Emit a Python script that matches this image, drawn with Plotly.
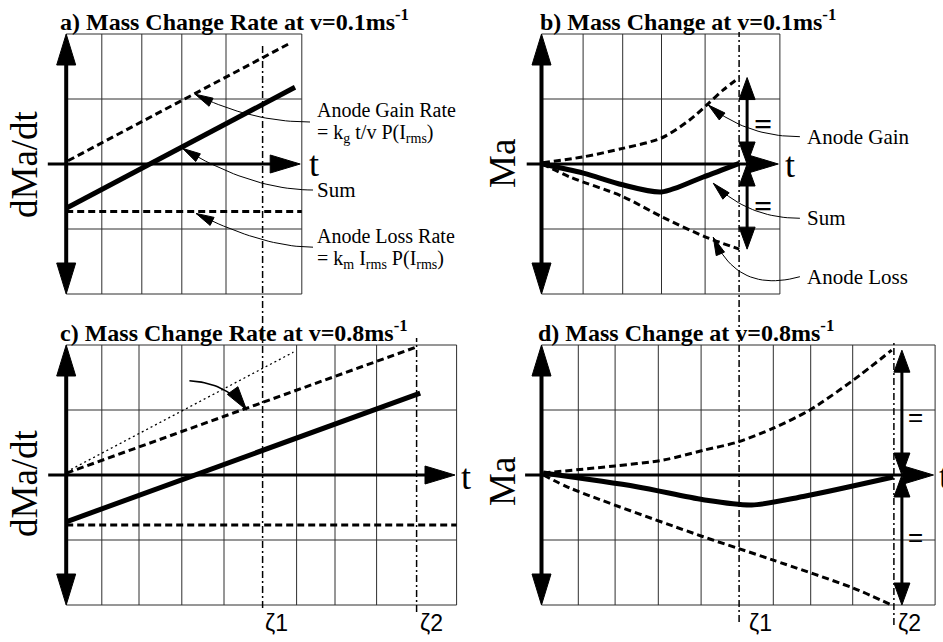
import math
import plotly.graph_objects as go

W, H = 943, 642
SX, SY = 40.0, 65.0   # pixels per time unit, pixels per grid row

SERIF = "Liberation Serif, Times New Roman, serif"
SANS = "Liberation Sans, Arial, sans-serif"
GRID = "#2e2e2e"

# ---------------------------------------------------------------- data
# a) mass change rate, v = 0.1 m/s
a_gain_t = [0.045, 5.60]
a_gain = [0.05, 1.86]
a_loss_t = [0.0, 5.89]
a_loss = [-0.73, -0.73]
a_sum_t = [0.0, 5.72]
a_sum = [-0.68, 1.18]
a_grid_t = [0.89, 1.89, 2.89, 3.995]
a_t_end = 5.89

# b) mass change, v = 0.1 m/s
b_gain_t = [0.03, 1.045, 2.03, 3.0, 3.71, 4.17, 4.545, 4.945]
b_gain = [0.02, 0.11, 0.24, 0.40, 0.68, 0.93, 1.14, 1.33]
b_loss_t = [0.025, 0.71, 2.03, 3.0, 4.09, 4.945]
b_loss = [0.0, -0.20, -0.50, -0.81, -1.12, -1.31]
b_sum_t = [0.025, 1.045, 2.03, 3.0, 4.045, 4.945]
b_sum = [0.0, -0.14, -0.32, -0.43, -0.20, 0.01]
b_grid_t = [1.04, 2.03, 3.0, 4.09]
b_t_end = 5.96

# c) mass change rate, v = 0.8 m/s (thin dotted: gain rate at v = 0.1 m/s)
c_ref_t = [0.01, 5.68]
c_ref = [0.05, 1.89]
c_gain_t = [0.01, 8.76]
c_gain = [0.03, 1.97]
c_loss_t = [0.0, 9.76]
c_loss = [-0.77, -0.77]
c_sum_t = [0.0, 8.85]
c_sum = [-0.72, 1.26]
c_grid_t = [0.89, 1.82, 2.89, 3.945, 5.76, 6.72, 7.76]
c_t_end = 9.76

# d) mass change, v = 0.8 m/s
d_gain_t = [0.045, 1.84, 3.045, 4.045, 4.92, 5.795, 6.71, 7.795, 8.755]
d_gain = [0.03, 0.14, 0.23, 0.38, 0.51, 0.72, 1.00, 1.46, 1.92]
d_loss_t = [0.045, 0.71, 4.045, 4.92, 5.795, 7.795, 8.755]
d_loss = [0.0, -0.20, -0.95, -1.13, -1.31, -1.74, -2.00]
d_sum_t = [0.045, 2.38, 4.045, 5.255, 6.545, 8.795]
d_sum = [0.03, -0.18, -0.38, -0.46, -0.33, -0.03]
d_grid_t = [0.92, 1.84, 2.92, 3.99, 5.795, 6.73, 7.78]
d_t_end = 9.84

grid_rows = [-1.0, 1.0]
row_lim = 2.0

zeta_left = [4.91, 8.76]
zeta_right = [4.94, 8.81]
zeta_labels = ["ζ1", "ζ2"]

titles = {
    "a": "a) Mass Change Rate at v=0.1ms<sup>-1</sup>",
    "b": "b) Mass Change at v=0.1ms<sup>-1</sup>",
    "c": "c) Mass Change Rate at v=0.8ms<sup>-1</sup>",
    "d": "d) Mass Change at v=0.8ms<sup>-1</sup>",
}

# ---------------------------------------------------------------- panels
PANELS = {
    "a": dict(n="", ox=66.2, oy=164.0, quad=(0.0, 471.5, 0.0, 321.0)),
    "b": dict(n="2", ox=541.5, oy=164.0, quad=(471.5, 943.0, 0.0, 321.0)),
    "c": dict(n="3", ox=66.2, oy=475.0, quad=(0.0, 471.5, 321.0, 642.0)),
    "d": dict(n="4", ox=541.5, oy=475.0, quad=(471.5, 943.0, 321.0, 642.0)),
}

fig = go.Figure()
layout = dict(
    width=W, height=H, margin=dict(l=0, r=0, t=0, b=0),
    paper_bgcolor="white", plot_bgcolor="rgba(0,0,0,0)",
    showlegend=False, hovermode=False,
)
for key, p in PANELS.items():
    X0, X1, Y0, Y1 = p["quad"]
    layout["xaxis" + p["n"]] = dict(
        domain=[X0 / W, X1 / W], range=[(X0 - p["ox"]) / SX, (X1 - p["ox"]) / SX],
        visible=False, fixedrange=True, anchor="y" + p["n"])
    layout["yaxis" + p["n"]] = dict(
        domain=[1 - Y1 / H, 1 - Y0 / H], range=[(p["oy"] - Y1) / SY, (p["oy"] - Y0) / SY],
        visible=False, fixedrange=True, anchor="x" + p["n"])
fig.update_layout(**layout)


def refs(k):
    n = PANELS[k]["n"]
    return "x" + n, "y" + n


def line(k, xs, ys, width=1.0, dash="solid", color="black", shape="linear"):
    xr, yr = refs(k)
    fig.add_trace(go.Scatter(
        x=xs, y=ys, mode="lines", xaxis=xr, yaxis=yr,
        line=dict(color=color, width=width, dash=dash, shape=shape, smoothing=0.8),
        hoverinfo="skip", showlegend=False))


def unit(frm, to):
    dx = (to[0] - frm[0]) * SX
    dy = (to[1] - frm[1]) * SY
    n = math.hypot(dx, dy)
    return dx / n, dy / n


def head(k, tip, frm, length, width):
    ux, uy = unit(frm, tip)
    bx, by = -ux * length, -uy * length
    nx, ny = -uy * width / 2, ux * width / 2
    xs = [tip[0], tip[0] + (bx + nx) / SX, tip[0] + (bx - nx) / SX, tip[0]]
    ys = [tip[1], tip[1] + (by + ny) / SY, tip[1] + (by - ny) / SY, tip[1]]
    xr, yr = refs(k)
    fig.add_trace(go.Scatter(
        x=xs, y=ys, mode="lines", fill="toself", fillcolor="black",
        xaxis=xr, yaxis=yr, line=dict(color="black", width=1),
        hoverinfo="skip", showlegend=False))


def pull_back(frm, tip, px):
    ux, uy = unit(frm, tip)
    return tip[0] - ux * px / SX, tip[1] - uy * px / SY


def arrow(k, start, tip, width, length, hw, both=False):
    a = pull_back(tip, start, length * 0.6) if both else start
    b = pull_back(start, tip, length * 0.6)
    line(k, [a[0], b[0]], [a[1], b[1]], width=width)
    head(k, tip, start, length, hw)
    if both:
        head(k, start, tip, length, hw)


def leader(k, tip, ctrl, end, length=18, hw=9, lw=1.0):
    steps = 24
    xs, ys = [], []
    for i in range(steps + 1):
        s = i / steps
        xs.append((1 - s) ** 2 * tip[0] + 2 * (1 - s) * s * ctrl[0] + s * s * end[0])
        ys.append((1 - s) ** 2 * tip[1] + 2 * (1 - s) * s * ctrl[1] + s * s * end[1])
    line(k, xs, ys, width=lw)
    head(k, tip, ctrl, length, hw)


def text(k, x, y, s, size, family=SERIF, xanchor="left", yanchor="middle", angle=0):
    xr, yr = refs(k)
    fig.add_annotation(x=x, y=y, xref=xr, yref=yr, text=s, showarrow=False,
                       font=dict(family=family, size=size, color="black"),
                       xanchor=xanchor, yanchor=yanchor, textangle=angle)


def ptext(xpx, ypx, s, size, family=SERIF, xanchor="left", yanchor="middle", angle=0):
    fig.add_annotation(x=xpx / W, y=1 - ypx / H, xref="paper", yref="paper", text=s,
                       showarrow=False, font=dict(family=family, size=size, color="black"),
                       xanchor=xanchor, yanchor=yanchor, textangle=angle)


def frame(k, grid_t, t_end, x_left):
    # grid, box and the two axes of one panel
    gx, gy = [], []
    for t in grid_t:
        gx += [t, t, None]
        gy += [-row_lim, row_lim, None]
    for r in grid_rows:
        gx += [0, t_end, None]
        gy += [r, r, None]
    line(k, gx, gy, width=1, color=GRID)
    line(k, [0, t_end, t_end, 0], [-row_lim, -row_lim, row_lim, row_lim], width=1, color=GRID)
    arrow(k, (0, -row_lim), (0, row_lim), width=4, length=31, hw=19, both=True)
    arrow(k, (x_left, 0), (t_end - 0.04, 0), width=3, length=30, hw=18)


DASH = "7px,4px"
LABEL = 21
PAIR = 20   # two-line labels next to the rate curves

# ---------------------------------------------------------------- a
frame("a", a_grid_t, a_t_end, -0.46)
line("a", a_gain_t, a_gain, width=3, dash=DASH)
line("a", a_loss_t, a_loss, width=3, dash=DASH)
line("a", a_sum_t, a_sum, width=5)
leader("a", (3.22, 1.075), (4.605, 0.646), (6.095, 0.646))
leader("a", (2.91, 0.24), (4.645, -0.40), (6.17, -0.40))
leader("a", (3.245, -0.76), (4.945, -1.28), (6.17, -1.28))
text("a", 6.22, 0.835, "Anode Gain Rate", PAIR)
text("a", 6.22, 0.47, "= k<sub>g</sub> t/v P(I<sub>rms</sub>)", PAIR)
text("a", 6.22, -0.40, "Sum", LABEL)
text("a", 6.22, -1.105, "Anode Loss Rate", PAIR)
text("a", 6.22, -1.47, "= k<sub>m</sub> I<sub>rms</sub> P(I<sub>rms</sub>)", PAIR)
text("a", 6.2, 0.0, "t", 36, xanchor="center")
ptext(24, 164, "dMa/dt", 37, angle=-90, xanchor="center")

# ---------------------------------------------------------------- b
frame("b", b_grid_t, b_t_end, -0.37)
line("b", b_gain_t, b_gain, width=3, dash=DASH, shape="spline")
line("b", b_loss_t, b_loss, width=3, dash=DASH, shape="spline")
line("b", b_sum_t, b_sum, width=5, shape="spline")
bx = zeta_right[0] + 8 / SX
arrow("b", (bx, 0), (bx, b_gain[-1]), width=3, length=22, hw=16, both=True)
arrow("b", (bx, 0), (bx, b_loss[-1]), width=3, length=22, hw=16, both=True)
text("b", bx + 0.40, 0.62, "<b>=</b>", 32, xanchor="center")
text("b", bx + 0.40, -0.65, "<b>=</b>", 32, xanchor="center")
leader("b", (4.17, 0.908), (5.125, 0.42), (6.46, 0.42))
leader("b", (4.295, -0.297), (5.17, -0.835), (6.46, -0.835))
leader("b", (4.295, -1.128), (4.9, -2.0), (6.46, -1.734))
text("b", 6.59, 0.42, "Anode Gain", LABEL)
text("b", 6.59, -0.835, "Sum", LABEL)
text("b", 6.59, -1.734, "Anode Loss", LABEL)
text("b", 6.2, -0.02, "t", 36, xanchor="center")
ptext(502, 164, "Ma", 37, angle=-90, xanchor="center")

# ---------------------------------------------------------------- c
frame("c", c_grid_t, c_t_end, -0.45)
line("c", c_ref_t, c_ref, width=1.3, dash="2px,3px")
line("c", c_gain_t, c_gain, width=3, dash=DASH)
line("c", c_loss_t, c_loss, width=3, dash=DASH)
line("c", c_sum_t, c_sum, width=5)
leader("c", (4.51, 1.0), (4.02, 1.42), (3.08, 1.45), length=24, hw=13, lw=1.6)
text("c", 10.0, -0.03, "t", 36, xanchor="center")
ptext(24, 483, "dMa/dt", 37, angle=-90, xanchor="center")

# ---------------------------------------------------------------- d
frame("d", d_grid_t, d_t_end, -0.41)
line("d", d_gain_t, d_gain, width=3, dash=DASH, shape="spline")
line("d", d_loss_t, d_loss, width=3, dash=DASH, shape="spline")
line("d", d_sum_t, d_sum, width=5, shape="spline")
dx_ = zeta_right[1] + 8 / SX
arrow("d", (dx_, 0), (dx_, d_gain[-1]), width=3, length=22, hw=16, both=True)
arrow("d", (dx_, 0), (dx_, d_loss[-1]), width=3, length=22, hw=16, both=True)
text("d", dx_ + 0.34, 0.90, "=", 26, family=SANS, xanchor="center")
text("d", dx_ + 0.34, -0.95, "=", 26, family=SANS, xanchor="center")
text("d", 9.88, -0.02, "t", 36)
ptext(502, 482, "Ma", 37, angle=-90, xanchor="center")

# ---------------------------------------------------------------- zeta markers
DASHDOT = "7px,3px,2px,3px"
zspans_left = [(45, 608), (338, 612)]
zspans_right = [(32, 622), (340, 625)]
for z, (ya, yb), lab, lx in zip(zeta_left, zspans_left, zeta_labels, [263, 418]):
    fig.add_shape(type="line", xref="x3", yref="paper", x0=z, x1=z,
                  y0=1 - yb / H, y1=1 - ya / H,
                  line=dict(color="black", width=1.5, dash=DASHDOT))
    ptext(lx, 623, lab, 23, family=SANS)
for z, (ya, yb), lab, lx in zip(zeta_right, zspans_right, zeta_labels, [747, 896]):
    fig.add_shape(type="line", xref="x4", yref="paper", x0=z, x1=z,
                  y0=1 - yb / H, y1=1 - ya / H,
                  line=dict(color="black", width=1.5, dash=DASHDOT))
    ptext(lx, 623, lab, 23, family=SANS)

# ---------------------------------------------------------------- titles
for k, (xpx, ypx) in {"a": (58, 20), "b": (538, 20), "c": (58, 331), "d": (536, 331)}.items():
    ptext(xpx, ypx, "<b>" + titles[k] + "</b>", 24)

fig.write_html("out.html")
